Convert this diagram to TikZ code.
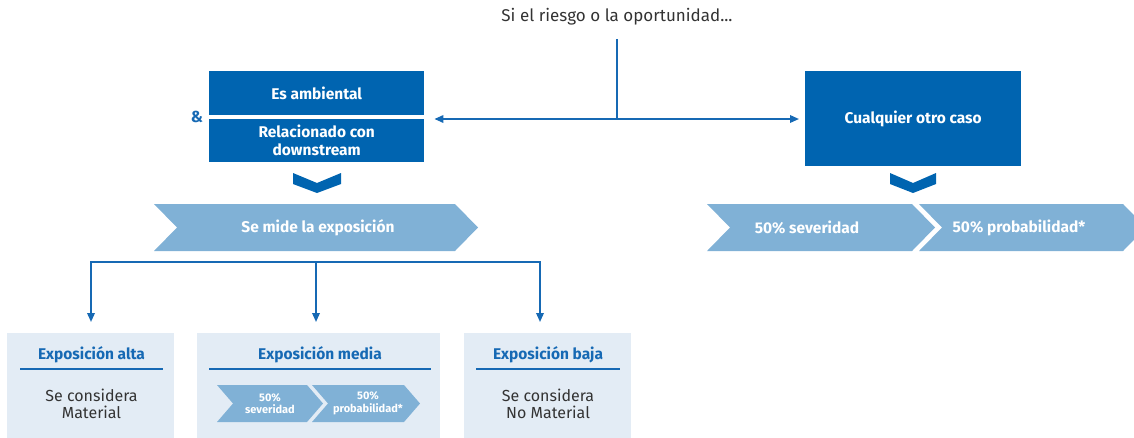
\documentclass[tikz,border=0pt]{standalone}
\usepackage{fontspec}
\setmainfont{Fira Sans}
\usetikzlibrary{arrows.meta}

\definecolor{boxBlue}{RGB}{0,100,176}
\definecolor{bandBlue}{RGB}{128,177,214}
\definecolor{paleBlue}{RGB}{227,236,245}
\definecolor{lineBlue}{RGB}{22,105,180}
\definecolor{textGray}{RGB}{51,51,51}

\begin{document}
\begin{tikzpicture}[x=1pt,y=-1pt,
  darkbox/.style={fill=boxBlue,text=white,align=center,inner sep=0pt,anchor=north west,
    font=\fontsize{15.5}{18}\selectfont\bfseries},
  palebox/.style={fill=paleBlue,inner sep=0pt,anchor=north west},
  bandtext/.style={text=white,align=center,font=\fontsize{15.5}{18}\selectfont\bfseries},
  smalltext/.style={text=white,align=center,font=\fontsize{11}{12.5}\selectfont\bfseries},
  boxtitle/.style={text=lineBlue,font=\fontsize{15.5}{18}\selectfont\bfseries},
  boxtext/.style={text=textGray,align=center,font=\fontsize{16}{17}\selectfont},
  link/.style={draw=lineBlue,line width=1.8pt},
  tip/.style={-{Triangle[length=9pt,width=7.5pt]}},
  rule/.style={draw=lineBlue,line width=2.6pt}]
  \useasboundingbox (0,0) rectangle (1134,437);
  % Question
  \node[text=textGray,font=\fontsize{17}{20}\selectfont] (pregunta) at (617,17) {Si el riesgo o la oportunidad...};
  \coordinate (cruce) at (617,119);
  \draw[link] ([yshift=-10pt]pregunta.south) -- (cruce);
  % Left case
  \node[darkbox,minimum width=215pt,minimum height=44pt] (ambiental) at (209,71) {Es ambiental};
  \node[darkbox,minimum width=215pt,minimum height=43pt] (relacionado) at (209,119) {Relacionado con\\downstream};
  \node[text=lineBlue,font=\fontsize{16}{18}\selectfont\bfseries] (y) at (197,117) {\&};
  \draw[link,tip,shorten >=10pt] (cruce) -- (cruce -| relacionado.east);
  \fill[boxBlue] (293,173) -- (317,183) -- (341,173) -- (341,184) -- (317,193) -- (293,184) -- cycle;
  \fill[bandBlue] (154,204) -- (455,204) -- (478,227.5) -- (455,251) -- (154,251) -- (177,227.5) -- cycle;
  \node[bandtext] (mide) at (318,227.5) {Se mide la exposición};
  % Right case
  \node[darkbox,minimum width=216pt,minimum height=95pt] (otro) at (805,71) {Cualquier otro caso};
  \draw[link,tip,shorten >=6pt] (cruce) -- (cruce -| otro.west);
  \fill[boxBlue] (890,173) -- (913,183) -- (936,173) -- (936,184) -- (913,193) -- (890,184) -- cycle;
  \fill[bandBlue] (707,204) -- (912,204) -- (935,227.5) -- (912,251) -- (707,251) -- (730,227.5) -- cycle;
  \node[bandtext] (severidad) at (807,227.5) {50\% severidad};
  \fill[bandBlue] (919,204) -- (1123,204) -- (1146,227.5) -- (1123,251) -- (919,251) -- (942,227.5) -- cycle;
  \node[bandtext] (probabilidad) at (1019,227.5) {50\% probabilidad*};
  % Exposure levels
  \node[palebox,minimum width=167pt,minimum height=105pt] (alta) at (7,333) {};
  \node[palebox,minimum width=243pt,minimum height=105pt] (media) at (197,333) {};
  \node[palebox,minimum width=167pt,minimum height=105pt] (baja) at (464,333) {};
  \coordinate (ramaA) at (91,262);
  \coordinate (ramaB) at (316,262);
  \coordinate (ramaC) at (540,262);
  \draw[link,tip,shorten >=11pt] (ramaB) -- (ramaA) -- (ramaA |- alta.north);
  \draw[link,tip,shorten >=11pt] (ramaB) -- (ramaB |- media.north);
  \draw[link,tip,shorten >=11pt] (ramaB) -- (ramaC) -- (ramaC |- baja.north);
  % Alta
  \node[boxtitle] (altaTit) at (91.5,355) {Exposición alta};
  \draw[rule] (20,369) -- (163,369);
  \node[boxtext] (altaTxt) at (91.5,404) {Se considera\\Material};
  % Media
  \node[boxtitle] (mediaTit) at (320,355) {Exposición media};
  \draw[rule] (209,369) -- (431,369);
  \fill[bandBlue] (217,385) -- (307,385) -- (323,403.5) -- (307,422) -- (217,422) -- (233,403.5) -- cycle;
  \node[smalltext] (mediaSev) at (270,403.5) {50\%\\severidad};
  \fill[bandBlue] (312,385) -- (404,385) -- (420,403.5) -- (404,422) -- (312,422) -- (328,403.5) -- cycle;
  \node[smalltext] (mediaProb) at (368,403.5) {50\%\\probabilidad*};
  % Baja
  \node[boxtitle] (bajaTit) at (548,355) {Exposición baja};
  \draw[rule] (476,369) -- (620,369);
  \node[boxtext] (bajaTxt) at (548,404) {Se considera\\No Material};
\end{tikzpicture}
\end{document}
